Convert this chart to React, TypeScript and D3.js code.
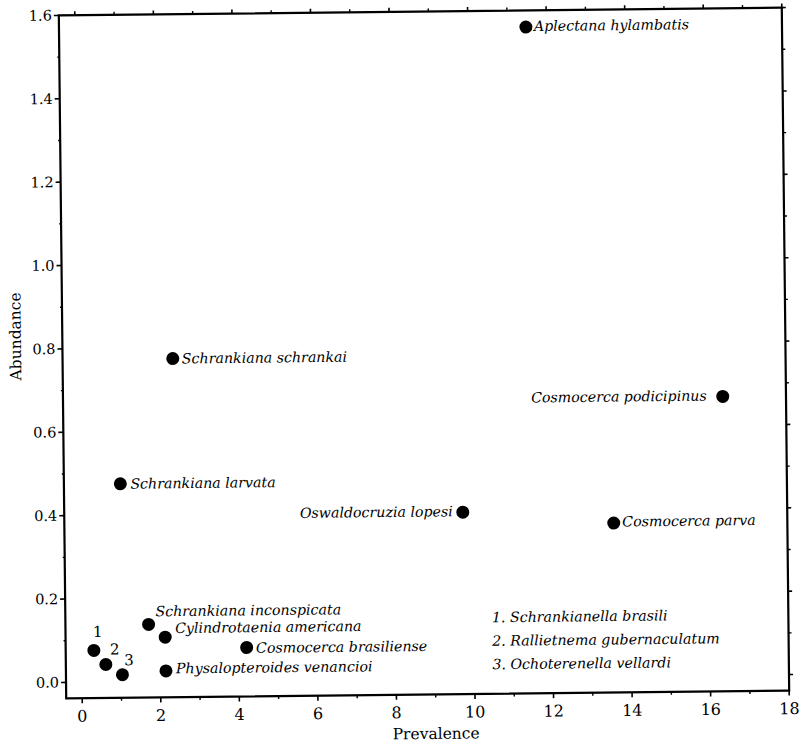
import React from "react";
import * as d3 from "d3";

const species = [
  "Aplectana hylambatis",
  "Schrankiana schrankai",
  "Cosmocerca podicipinus",
  "Schrankiana larvata",
  "Oswaldocruzia lopesi",
  "Cosmocerca parva",
  "Schrankiana inconspicata",
  "Cylindrotaenia americana",
  "Cosmocerca brasiliense",
  "Physalopteroides venancioi",
  "1",
  "2",
  "3",
];
const prevalence = [11.48, 2.4, 16.39, 1.03, 9.74, 13.58, 1.71, 2.13, 4.2, 2.14, 0.31, 0.61, 1.03];
const abundance = [1.56, 0.774, 0.669, 0.475, 0.398, 0.368, 0.137, 0.106, 0.079, 0.025, 0.076, 0.042, 0.017];

const legendItems = [
  "1. Schrankianella brasili",
  "2. Rallietnema gubernaculatum",
  "3. Ochoterenella vellardi",
];

const xTicks = [0, 2, 4, 6, 8, 10, 12, 14, 16, 18];
const yTicks = [0, 0.2, 0.4, 0.6, 0.8, 1.0, 1.2, 1.4, 1.6];

// label placement: [dx, dy, anchor]
const labelPlace: Record<string, [number, number, string]> = {
  "Aplectana hylambatis": [8, 4, "start"],
  "Schrankiana schrankai": [9, 5, "start"],
  "Cosmocerca podicipinus": [-16, 4, "end"],
  "Schrankiana larvata": [10, 5, "start"],
  "Oswaldocruzia lopesi": [-10, 4, "end"],
  "Cosmocerca parva": [8.5, 3.5, "start"],
  "Schrankiana inconspicata": [7, -8, "start"],
  "Cylindrotaenia americana": [10, -4, "start"],
  "Cosmocerca brasiliense": [9.4, 5.4, "start"],
  "Physalopteroides venancioi": [10, 2.6, "start"],
  "1": [4, -13.3, "middle"],
  "2": [9, -10, "middle"],
  "3": [6.7, -9.3, "middle"],
};

const W = 801;
const H = 743;
const left = 62.5, right = 785.5, top = 12.5, bottom = 695.5;

export default function App() {
  const x = d3.scaleLinear().domain([-16 / 39.28, 18]).range([left, right]);
  const y = d3.scaleLinear().domain([-16 / 416.9, 1.6]).range([bottom, top]);
  const xMinor = d3.range(1, 18, 2);
  const yMinor = d3.range(0.1, 1.6, 0.2);
  const serif = "DejaVu Serif";
  const cx = (left + right) / 2;
  const cy = (top + bottom) / 2;

  return (
    <svg width={W} height={H} style={{ position: "absolute", left: 0, top: 0, background: "#fff" }}>
      <rect x={0} y={0} width={W} height={H} fill="#fff" />
      <g transform={`translate(0, -1) rotate(-0.62, ${cx}, ${cy})`}>
        {/* frame */}
        <rect x={left} y={top} width={right - left} height={bottom - top} fill="none" stroke="#000" strokeWidth={2.2} />
        {xTicks.map((t) => (
          <g key={"xt" + t}>
            <line x1={x(t)} x2={x(t)} y1={bottom} y2={bottom + 5} stroke="#000" strokeWidth={1.6} />
            <line x1={x(t)} x2={x(t)} y1={top} y2={top - 4} stroke="#000" strokeWidth={1.6} />
            <text x={x(t)} y={719} fontSize={16} fontFamily={serif} textAnchor="middle">{t}</text>
          </g>
        ))}
        {xMinor.map((t) => (
          <g key={"xm" + t}>
            <line x1={x(t)} x2={x(t)} y1={bottom} y2={bottom + 3} stroke="#000" strokeWidth={1.4} />
            <line x1={x(t)} x2={x(t)} y1={top} y2={top - 3} stroke="#000" strokeWidth={1.4} />
          </g>
        ))}
        {yTicks.map((t) => (
          <g key={"yt" + t}>
            <line x1={left} x2={left - 5} y1={y(t)} y2={y(t)} stroke="#000" strokeWidth={1.6} />
            <line x1={right} x2={right + 4} y1={y(t)} y2={y(t)} stroke="#000" strokeWidth={1.6} />
            <text x={left - 7} y={y(t) + 5} fontSize={14.5} fontFamily={serif} textAnchor="end">{t.toFixed(1)}</text>
          </g>
        ))}
        {yMinor.map((t) => (
          <g key={"ym" + t}>
            <line x1={left} x2={left - 2} y1={y(t)} y2={y(t)} stroke="#000" strokeWidth={1.4} />
            <line x1={right} x2={right + 3} y1={y(t)} y2={y(t)} stroke="#000" strokeWidth={1.4} />
          </g>
        ))}
        <text x={432} y={740} fontSize={15.5} fontFamily={serif} textAnchor="middle">Prevalence</text>
        <text transform={`translate(21, 333) rotate(-90)`} fontSize={15.5} fontFamily={serif} textAnchor="middle">Abundance</text>
        {species.map((s, i) => {
          const [dx, dy, anchor] = labelPlace[s];
          const px = x(prevalence[i]);
          const py = y(abundance[i]);
          const isNum = s.length === 1;
          return (
            <g key={s}>
              <circle cx={px} cy={py} r={6.5} fill="#000" />
              <text
                x={px + dx}
                y={py + dy}
                fontSize={isNum ? 15 : 14.2}
                fontStyle={isNum ? "normal" : "italic"}
                fontFamily={serif}
                textAnchor={anchor}
              >
                {s}
              </text>
            </g>
          );
        })}
        {legendItems.map((l, i) => (
          <text key={l} x={489} y={624 + i * 23.5} fontSize={14.2} fontStyle="italic" fontFamily={serif}>{l}</text>
        ))}
      </g>
    </svg>
  );
}
